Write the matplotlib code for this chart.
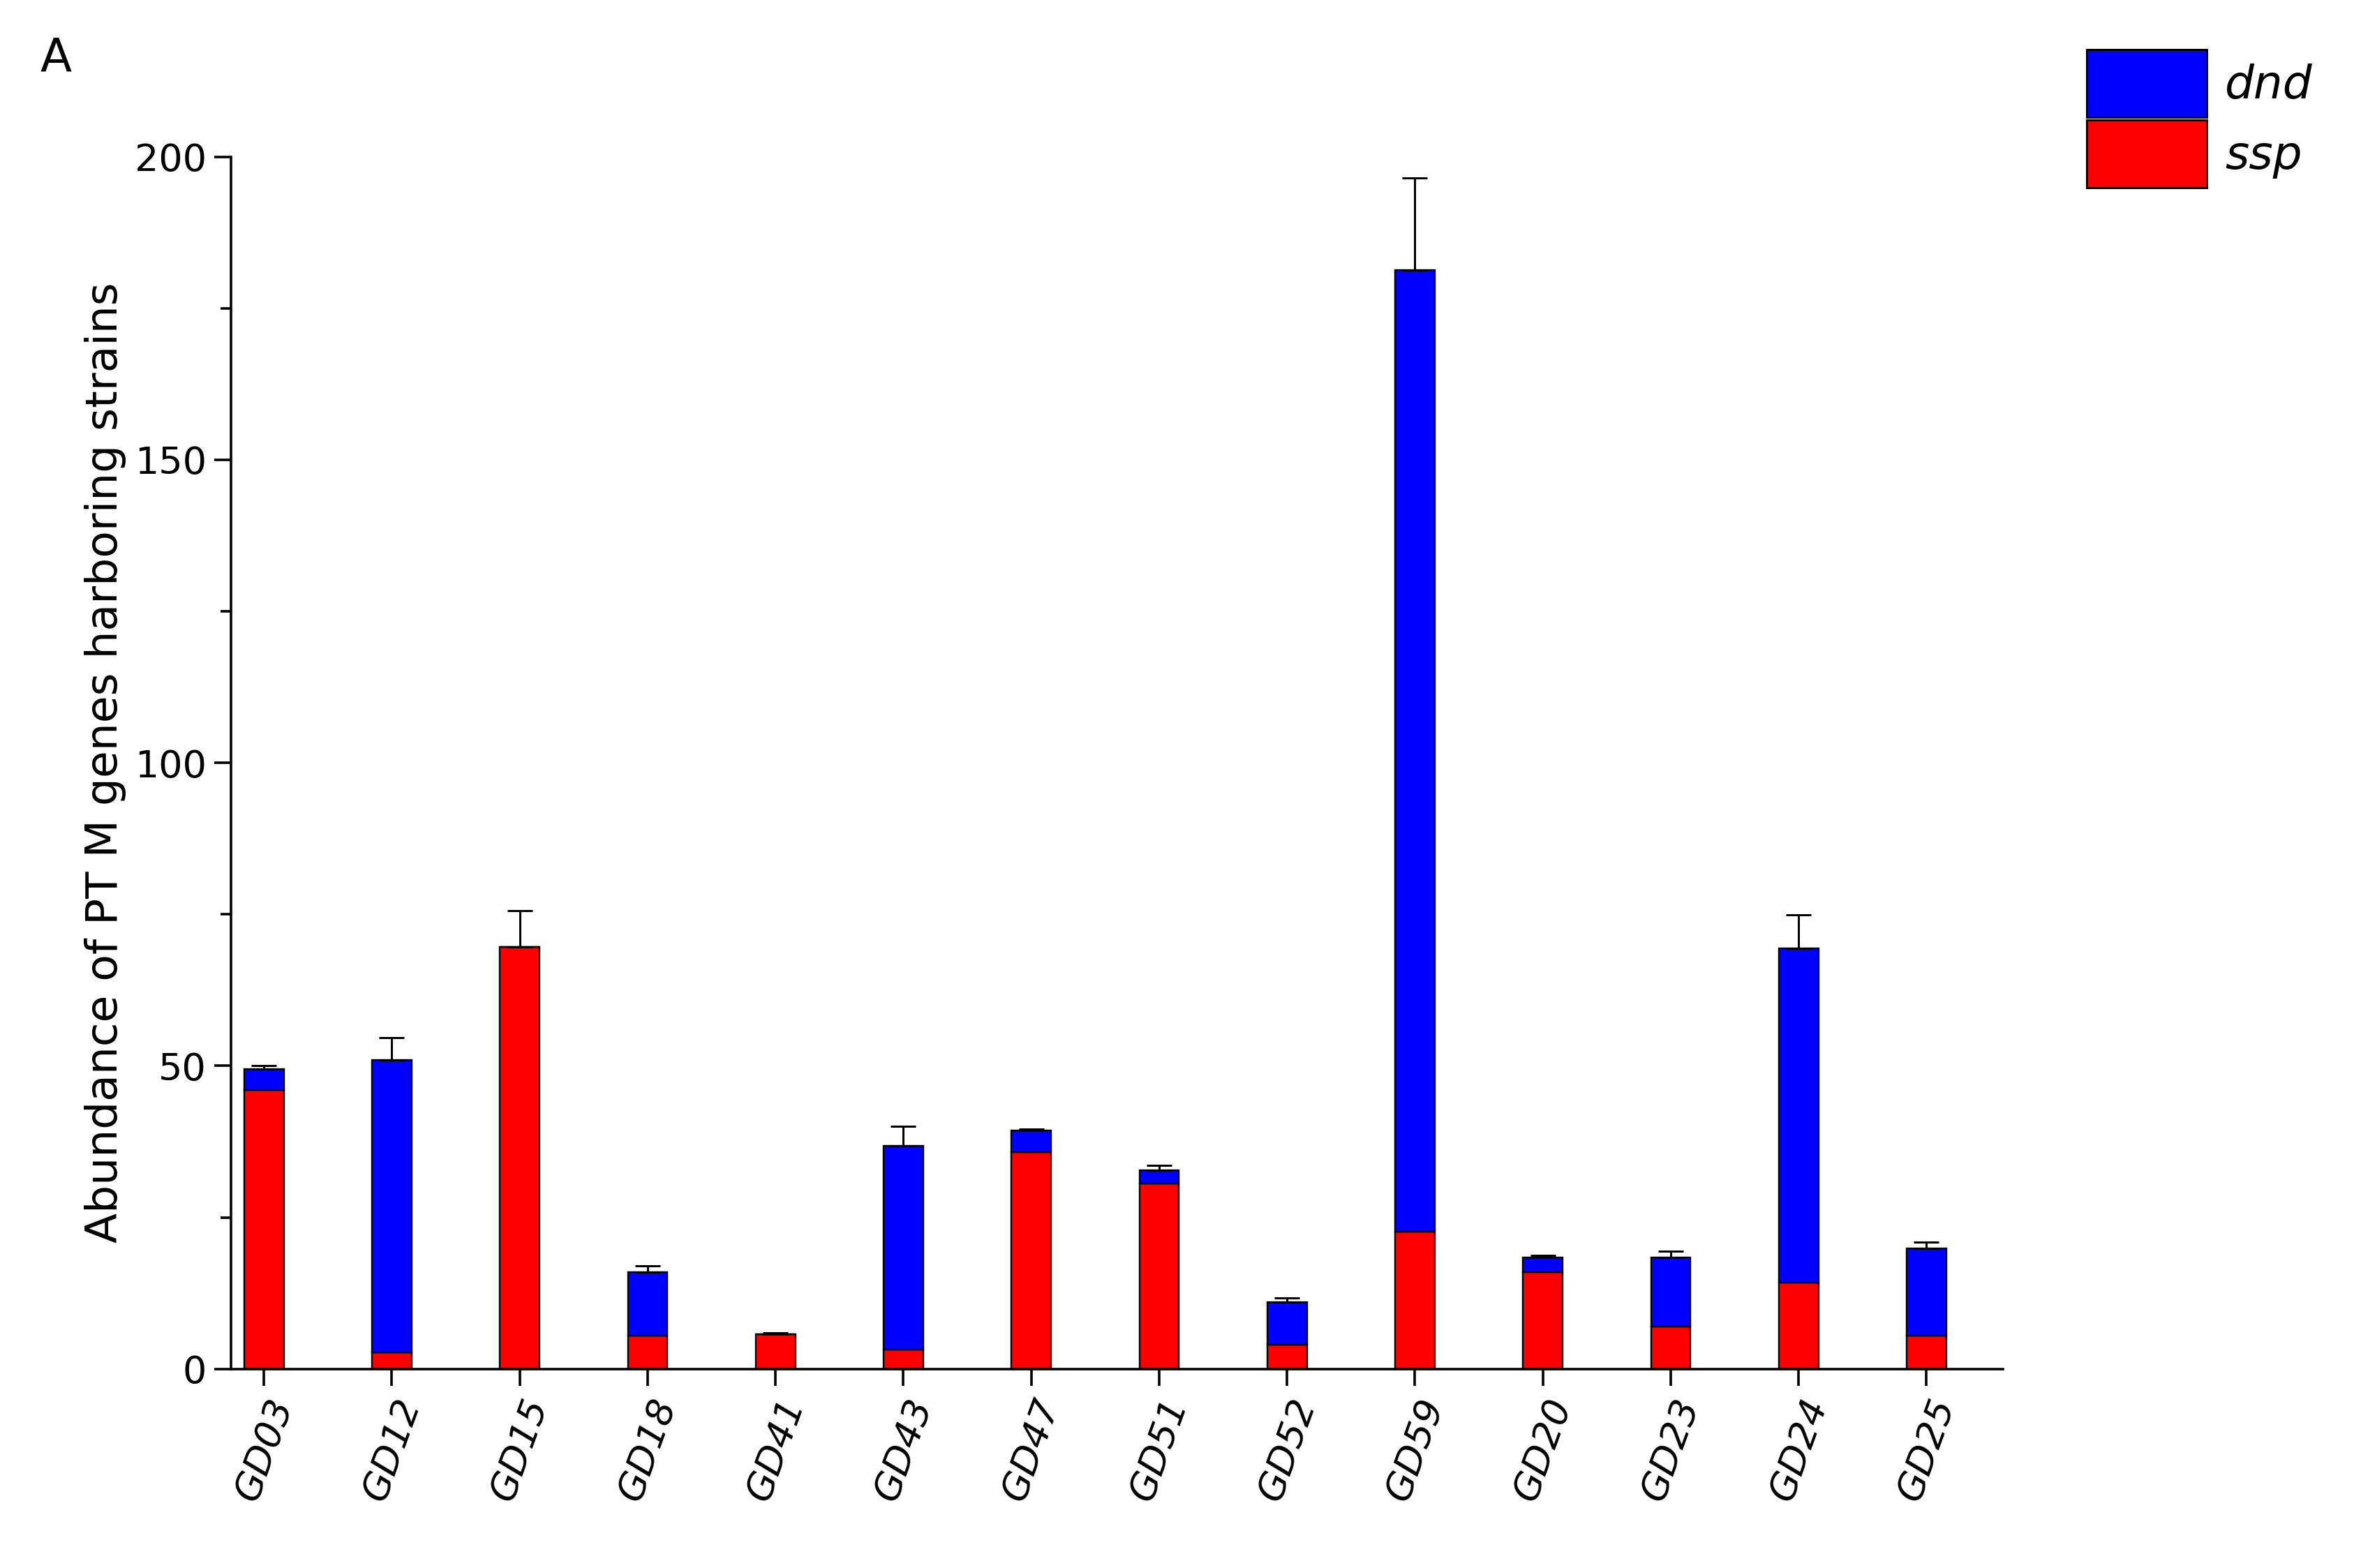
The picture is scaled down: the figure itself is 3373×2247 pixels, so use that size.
import numpy as np
import matplotlib.pyplot as plt
from matplotlib.patches import Patch

samples = ['GD03', 'GD12', 'GD15', 'GD18', 'GD41', 'GD43', 'GD47',
           'GD51', 'GD52', 'GD59', 'GD20', 'GD23', 'GD24', 'GD25']
ssp = [46, 2.7, 69.6, 5.5, 5.7, 3.2, 35.8, 30.6, 4.0, 22.6, 16.0, 7.0, 14.2, 5.5]
total = [49.5, 51, 69.6, 16, 5.7, 36.8, 39.3, 32.8, 11, 181.3, 18.4, 18.4, 69.4, 19.9]
err = [0.5, 3.7, 6.0, 1.0, 0.3, 3.2, 0.3, 0.8, 0.7, 15.2, 0.3, 1.0, 5.5, 1.0]

dnd = np.array(total) - np.array(ssp)
x = np.arange(len(samples))

fig = plt.figure(figsize=(3373 / 216, 2247 / 216), dpi=216)
ax = fig.add_axes([0.098, 0.127, 0.753, 0.773])
w = 0.31
ax.bar(x, ssp, w, color='#ff0000', edgecolor='black', linewidth=0.8)
ax.bar(x, dnd, w, bottom=ssp, color='#0000ff', edgecolor='black', linewidth=0.8)
ax.errorbar(x, total, yerr=[np.zeros(len(err)), err], fmt='none',
            ecolor='black', elinewidth=1, capsize=6, capthick=1)

ax.set_xlim(-0.26, 13.6)
ax.set_ylim(0, 200)
ax.set_yticks([0, 50, 100, 150, 200])
ax.set_yticks(np.arange(0, 201, 25), minor=True)
ax.set_xticks(x)
ax.set_xticklabels(samples, rotation=70, style='italic', ha='center',
                   rotation_mode='default')
ax.tick_params(axis='both', labelsize=18, direction='out', length=8, width=1.2)
ax.tick_params(axis='y', which='minor', length=5, width=1.2)
for s in ['top', 'right']:
    ax.spines[s].set_visible(False)
for s in ['left', 'bottom']:
    ax.spines[s].set_linewidth(1.2)
ax.set_ylabel('Abundance of PT M genes harboring strains', fontsize=21)

fig.text(0.017, 0.955, 'A', fontsize=22)
handles = [Patch(facecolor='#0000ff', edgecolor='black', label='dnd'),
           Patch(facecolor='#ff0000', edgecolor='black', label='ssp')]
leg = fig.legend(handles=handles, loc='upper right', bbox_to_anchor=(1.0, 0.995),
                 frameon=False, prop={'size': 22, 'style': 'italic'},
                 handlelength=2.6, handleheight=1.9, handletextpad=0.4,
                 labelspacing=0.05)

fig.savefig('out.png', dpi=216)
